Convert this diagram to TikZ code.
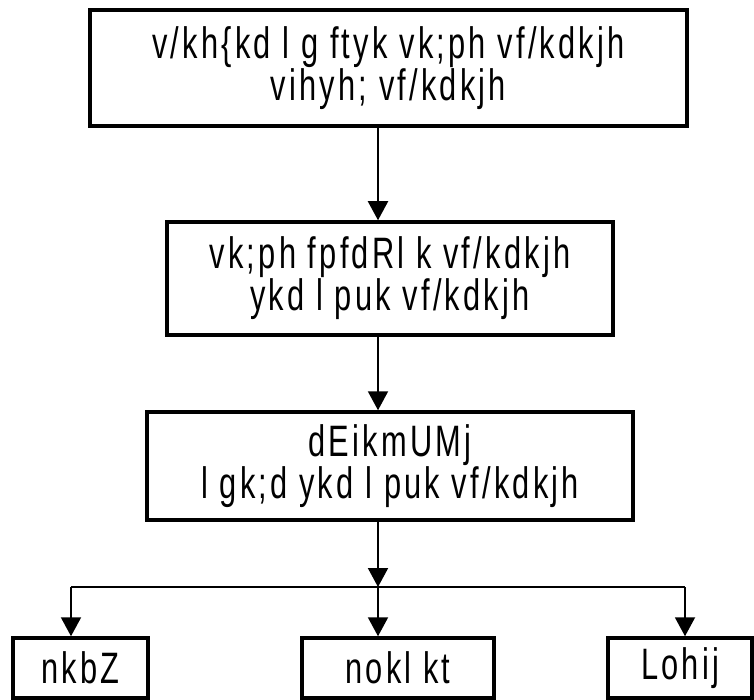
\documentclass[tikz,border=0pt]{standalone}
\usepackage{fontspec}
\setmainfont{Liberation Sans}[FakeStretch=0.7,LetterSpace=7.3]
\usetikzlibrary{arrows.meta}

\begin{document}
\begin{tikzpicture}[
  x=1pt, y=-1pt,
  box/.style={draw, line width=3.5pt, rectangle, align=center, inner sep=0pt,
    font=\fontsize{44}{38}\selectfont},
  arr/.style={line width=2pt, -{Triangle[length=19pt,width=20pt]}}
]
\useasboundingbox (0,0) rectangle (754,700);

\node[box, minimum width=597pt, minimum height=116pt] (officer) at (388.5,68)
  {v/kh\{kd l g ftyk vk;ph vf/kdkjh\\vihyh; vf/kdkjh};
\node[box, minimum width=446pt, minimum height=113pt] (doctor) at (390,278.5)
  {vk;ph fpfdRl k vf/kdkjh\\ykd l puk vf/kdkjh};
\node[box, minimum width=486pt, minimum height=108pt] (compounder) at (390,466)
  {dEikmUMj\\l gk;d ykd l puk vf/kdkjh};

\node[box, minimum width=135pt, minimum height=60pt] (dai) at (80.5,668) {nkbZ};
\node[box, minimum width=192pt, minimum height=60pt] (davasaj) at (398,668) {nokl kt};
\node[box, minimum width=144pt, minimum height=60pt] (sweeper) at (680,668) {Lohij};

\coordinate (spine) at (378,0);
\coordinate (split) at (378,587);
\coordinate (splitl) at (71,587);
\coordinate (splitr) at (685,587);

\draw[arr] (officer.south -| spine) -- (doctor.north -| spine);
\draw[arr] (doctor.south -| spine) -- (compounder.north -| spine);
\draw[arr] (compounder.south -| spine) -- (split);
\draw[line width=1.5pt] (splitl) -- (splitr);
\draw[arr] (splitl) -- (splitl |- dai.north);
\draw[arr] (split) -- (split |- davasaj.north);
\draw[arr] (splitr) -- (splitr |- sweeper.north);

\end{tikzpicture}
\end{document}
